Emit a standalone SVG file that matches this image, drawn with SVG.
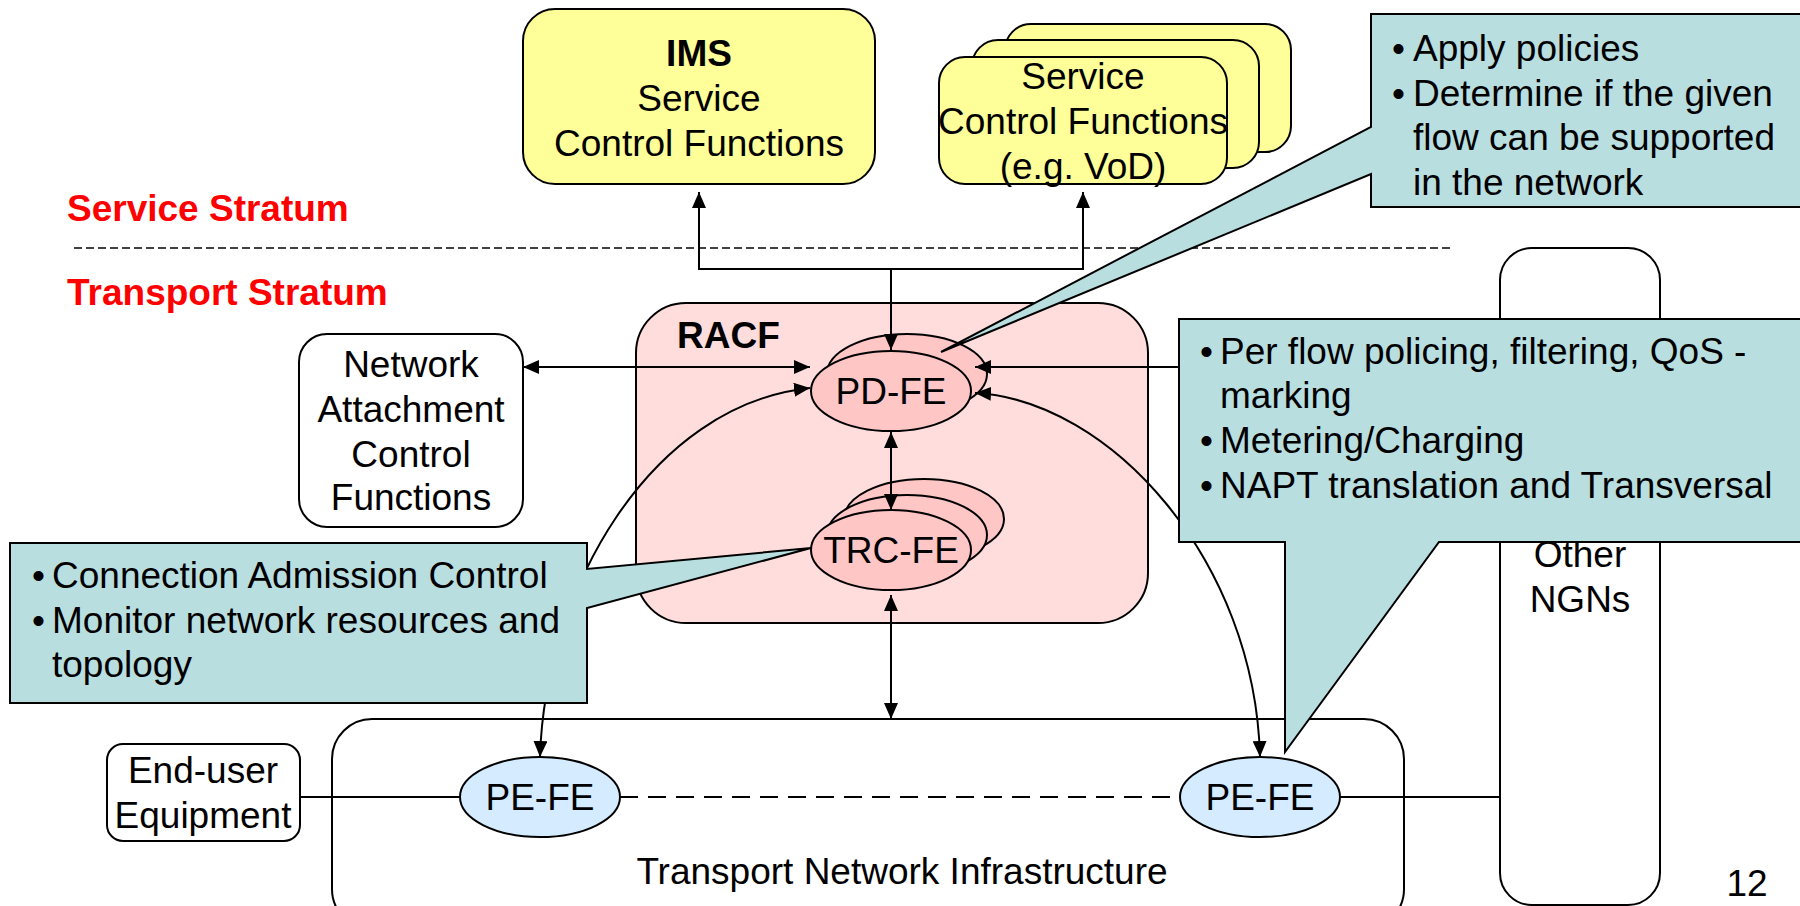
<svg xmlns="http://www.w3.org/2000/svg" width="1800" height="906" viewBox="0 0 1800 906">
<style>
text{font-family:"Liberation Sans",Arial,sans-serif;font-size:37px;fill:#000}
.c{text-anchor:middle}
.b{font-weight:bold}
.red{fill:#FF0000;font-weight:bold}
.box{stroke:#000;stroke-width:2}
.yel{fill:#FFFF99}
.wht{fill:#FFFFFF}
.pink{fill:#FFC6C6}
.blue{fill:#D5EBFF}
.call{fill:#B9DEE0;stroke:#000;stroke-width:2}
.con{fill:none;stroke:#000;stroke-width:2}
</style>
<defs>
<marker id="ah" markerUnits="userSpaceOnUse" markerWidth="17" markerHeight="14" refX="16" refY="7" orient="auto-start-reverse" viewBox="0 0 17 14">
<path d="M0,0 L16,7 L0,14 Z" fill="#000"/>
</marker>
</defs>

<g id="strata">
<text class="red" x="67" y="221">Service Stratum</text>
<line x1="74" y1="248" x2="1452" y2="248" stroke="#000" stroke-width="1.5" stroke-dasharray="8,4"/>
<text class="red" x="67" y="305">Transport Stratum</text>
</g>

<g id="ims">
<rect class="box yel" x="523" y="9" width="352" height="175" rx="32"/>
<text class="c b" x="699" y="66">IMS</text>
<text class="c" x="699" y="111">Service</text>
<text class="c" x="699" y="156">Control Functions</text>
</g>

<g id="scf">
<rect class="box yel" x="1005" y="24" width="286" height="128" rx="26"/>
<rect class="box yel" x="972" y="40" width="287" height="128" rx="26"/>
<rect class="box yel" x="939" y="57" width="288" height="127" rx="26"/>
<text class="c" x="1083" y="89">Service</text>
<text class="c" x="1083" y="134">Control Functions</text>
<text class="c" x="1083" y="179">(e.g. VoD)</text>
</g>

<g id="nacf">
<rect class="box wht" x="299" y="334" width="224" height="193" rx="28"/>
<text class="c" x="411" y="377">Network</text>
<text class="c" x="411" y="422">Attachment</text>
<text class="c" x="411" y="467">Control</text>
<text class="c" x="411" y="510">Functions</text>
</g>

<g id="racf">
<rect class="box" fill="#FFDDDD" x="636" y="303" width="512" height="320" rx="50"/>
<text class="b" x="677" y="348">RACF</text>
</g>

<g id="pdfe">
<ellipse class="box pink" cx="907" cy="374" rx="80" ry="40"/>
<ellipse class="box pink" cx="891" cy="391" rx="80" ry="40"/>
<text class="c" x="891" y="404">PD-FE</text>
</g>

<g id="trcfe">
<ellipse class="box pink" cx="924" cy="519" rx="80" ry="40"/>
<ellipse class="box pink" cx="907" cy="535" rx="80" ry="40"/>
<ellipse class="box pink" cx="891" cy="550" rx="80" ry="40"/>
<text class="c" x="891" y="563">TRC-FE</text>
</g>

<g id="otherngns">
<rect class="box wht" x="1500" y="248" width="160" height="657" rx="32"/>
<text class="c" x="1580" y="567">Other</text>
<text class="c" x="1580" y="612">NGNs</text>
</g>

<g id="transport">
<rect class="box" fill="none" x="332" y="719" width="1072" height="210" rx="40"/>
<text class="c" x="902" y="884">Transport Network Infrastructure</text>
</g>

<g id="enduser">
<rect class="box wht" x="107" y="744" width="193" height="97" rx="16"/>
<text class="c" x="203" y="783">End-user</text>
<text class="c" x="203" y="828">Equipment</text>
</g>

<g id="connectors">
<path class="con" d="M699,192 V269 H1083 V192" marker-start="url(#ah)" marker-end="url(#ah)"/>
<path class="con" d="M891,269 V350" marker-end="url(#ah)"/>
<path class="con" d="M523,367 H810" marker-start="url(#ah)" marker-end="url(#ah)"/>
<path class="con" d="M1500,367 H975" marker-end="url(#ah)"/>
<path class="con" d="M891,432 V510" marker-start="url(#ah)" marker-end="url(#ah)"/>
<path class="con" d="M891,595 V719" marker-start="url(#ah)" marker-end="url(#ah)"/>
<path class="con" d="M540,757 C545,590 650,405 810,388" marker-start="url(#ah)" marker-end="url(#ah)"/>
<path class="con" d="M975,393 C1110,400 1255,560 1260,757" marker-start="url(#ah)" marker-end="url(#ah)"/>
<path class="con" d="M300,797 H460"/>
<path class="con" d="M620,797 H1180" stroke-dasharray="18,10"/>
<path class="con" d="M1340,797 H1500"/>
</g>

<g id="pefe-left">
<ellipse class="box blue" cx="540" cy="797" rx="80" ry="40"/>
<text class="c" x="540" y="810">PE-FE</text>
</g>
<g id="pefe-right">
<ellipse class="box blue" cx="1260" cy="797" rx="80" ry="40"/>
<text class="c" x="1260" y="810">PE-FE</text>
</g>

<g id="callout-pdfe">
<path class="call" d="M1371,14 H1812 V207 H1371 V174 L941,352 L1371,127 Z"/>
<text x="1392" y="61">•</text><text x="1413" y="61">Apply policies</text>
<text x="1392" y="106">•</text><text x="1413" y="106">Determine if the given</text>
<text x="1413" y="150">flow can be supported</text>
<text x="1413" y="195">in the network</text>
</g>

<g id="callout-pefe">
<path class="call" d="M1179,319 H1812 V542 H1439 L1285,752 V542 H1179 Z"/>
<text x="1200" y="364">•</text><text x="1220" y="364">Per flow policing, filtering, QoS -</text>
<text x="1220" y="408">marking</text>
<text x="1200" y="453">•</text><text x="1220" y="453">Metering/Charging</text>
<text x="1200" y="498">•</text><text x="1220" y="498">NAPT translation and Transversal</text>
</g>

<g id="callout-trcfe">
<path class="call" d="M10,543 H587 V569 L811,548 L587,608 V703 H10 Z"/>
<text x="32" y="588">•</text><text x="52" y="588">Connection Admission Control</text>
<text x="32" y="633">•</text><text x="52" y="633">Monitor network resources and</text>
<text x="52" y="677">topology</text>
</g>

<g id="pagenum">
<text class="c" x="1747" y="896">12</text>
</g>
</svg>
